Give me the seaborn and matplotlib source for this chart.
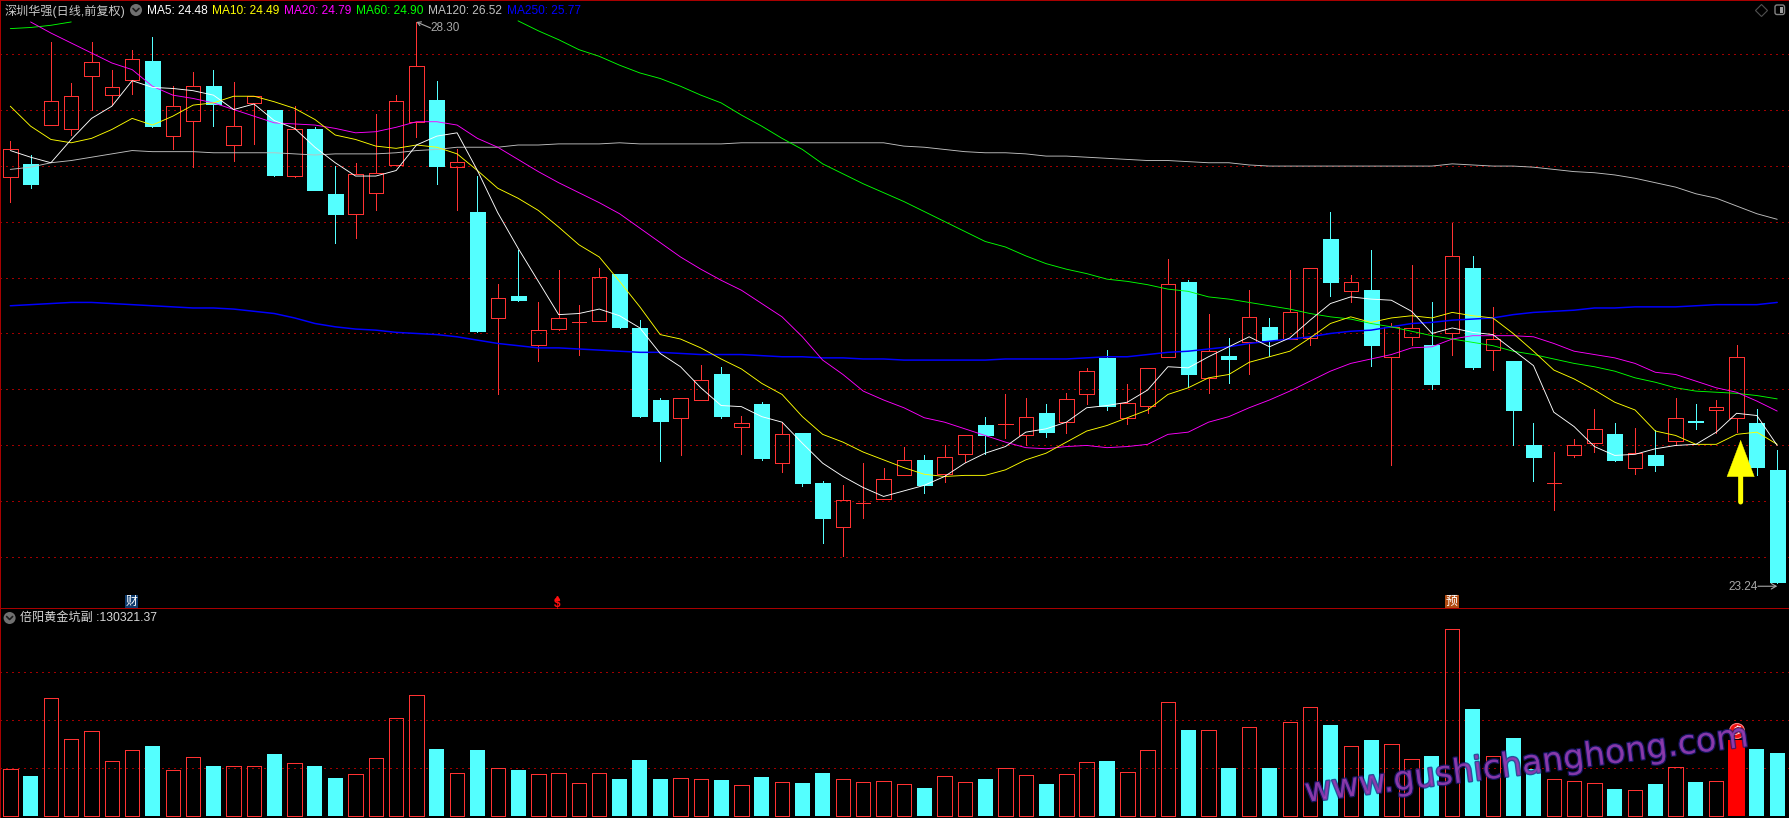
import numpy as np
import pandas as pd
import matplotlib
matplotlib.use('Agg')
import matplotlib.pyplot as plt
import matplotlib.patheffects as pe
from matplotlib.patches import Circle, FancyBboxPatch
import seaborn as sns

days = list(range(88))

open_p = [26.90, 27.02, 27.37, 27.33, 27.81, 27.64, 27.78, 27.95, 27.27, 27.41,
          27.72, 27.19, 27.57, 27.51, 26.91, 27.33, 26.75, 26.57, 26.76, 27.01,
          27.40, 27.60, 26.99, 26.59, 25.63, 25.83, 25.39, 25.53, 25.59, 25.60,
          26.03, 25.54, 24.89, 24.73, 24.89, 25.12, 24.65, 24.85, 24.32, 24.59,
          24.14, 23.74, 23.96, 24.00, 24.21, 24.35, 24.22, 24.40, 24.66, 24.67,
          24.57, 24.77, 24.69, 24.94, 25.27, 24.73, 24.84, 25.28, 25.95, 25.09,
          25.29, 25.41, 25.55, 25.44, 25.45, 26.34, 25.87, 25.88, 25.28, 25.46,
          25.39, 25.49, 26.08, 25.34, 25.24, 24.48, 24.14, 24.39, 24.50, 24.58,
          24.28, 24.39, 24.52, 24.70, 24.80, 24.73, 24.68, 24.26]
close_p = [27.15, 26.84, 27.59, 27.63, 27.94, 27.71, 27.97, 27.36, 27.54, 27.72,
           27.56, 27.36, 27.63, 26.92, 27.33, 26.78, 26.57, 26.93, 26.94, 27.59,
           27.90, 27.00, 27.04, 25.51, 25.81, 25.79, 25.52, 25.63, 25.59, 26.00,
           25.55, 24.75, 24.70, 24.91, 25.07, 24.75, 24.68, 24.37, 24.58, 24.14,
           23.83, 23.99, 23.96, 24.18, 24.35, 24.12, 24.38, 24.57, 24.57, 24.67,
           24.74, 24.60, 24.90, 25.15, 24.84, 24.86, 25.18, 25.94, 25.12, 25.33,
           25.26, 25.64, 25.43, 25.68, 26.08, 25.95, 25.95, 25.39, 25.55, 25.54,
           25.03, 26.19, 25.19, 25.44, 24.80, 24.38, 24.14, 24.48, 24.63, 24.35,
           24.41, 24.30, 24.73, 24.69, 24.83, 25.28, 24.29, 23.25]
high_p = [27.23, 27.10, 28.12, 27.75, 28.12, 27.87, 28.05, 28.16, 27.72, 27.85,
          27.87, 27.76, 27.63, 27.51, 27.54, 27.35, 27.00, 27.03, 27.47, 27.64,
          28.30, 27.77, 27.15, 26.91, 25.94, 26.24, 25.77, 26.06, 25.75, 26.08,
          26.03, 25.61, 24.91, 24.91, 25.21, 25.19, 24.75, 24.87, 24.69, 24.59,
          24.16, 24.12, 24.32, 24.28, 24.47, 24.39, 24.48, 24.57, 24.74, 24.94,
          24.91, 24.85, 24.95, 25.18, 25.34, 25.03, 25.18, 26.16, 25.97, 25.67,
          25.45, 25.88, 25.63, 26.06, 26.08, 26.59, 26.02, 26.24, 25.58, 26.11,
          25.77, 26.49, 26.19, 25.73, 25.24, 24.68, 24.42, 24.54, 24.81, 24.68,
          24.64, 24.62, 24.91, 24.85, 24.89, 25.39, 24.81, 24.44]
low_p = [26.68, 26.80, 27.37, 27.28, 27.51, 27.55, 27.65, 27.35, 27.15, 26.99,
         27.36, 27.05, 27.20, 26.91, 26.90, 26.78, 26.31, 26.35, 26.60, 27.01,
         27.26, 26.84, 26.60, 25.50, 24.94, 25.78, 25.24, 25.52, 25.30, 25.60,
         25.54, 24.74, 24.34, 24.39, 24.89, 24.73, 24.40, 24.35, 24.24, 24.11,
         23.60, 23.48, 23.83, 24.00, 24.21, 24.05, 24.15, 24.33, 24.40, 24.55,
         24.48, 24.56, 24.59, 24.85, 24.80, 24.67, 24.77, 25.28, 25.01, 24.95,
         25.04, 25.12, 25.29, 25.44, 25.39, 25.83, 25.77, 25.20, 24.30, 25.39,
         24.99, 25.30, 25.17, 25.16, 24.48, 24.16, 23.90, 24.38, 24.42, 24.34,
         24.22, 24.25, 24.48, 24.63, 24.59, 24.60, 24.21, 23.24]

ma5 = [27.14, 27.08, 27.03, 27.24, 27.43, 27.54, 27.77, 27.71, 27.70, 27.68,
       27.64, 27.51, 27.56, 27.41, 27.34, 27.17, 27.03, 26.91, 26.91, 26.96,
       27.19, 27.27, 27.30, 26.96, 26.58, 26.26, 25.96, 25.66, 25.67, 25.71,
       25.65, 25.54, 25.31, 25.19, 25.00, 24.84, 24.83, 24.74, 24.69, 24.50,
       24.32, 24.20, 24.10, 24.02, 24.07, 24.12, 24.20, 24.32, 24.41, 24.47,
       24.60, 24.63, 24.69, 24.82, 24.84, 24.87, 24.98, 25.19, 25.18, 25.28,
       25.37, 25.46, 25.37, 25.45, 25.61, 25.76, 25.82, 25.80, 25.79, 25.69,
       25.49, 25.54, 25.50, 25.48, 25.34, 25.20, 24.78, 24.65, 24.47, 24.39,
       24.40, 24.45, 24.48, 24.49, 24.60, 24.77, 24.75, 24.48]
ma10 = [27.54, 27.36, 27.24, 27.21, 27.25, 27.33, 27.43, 27.37, 27.45, 27.55,
        27.57, 27.63, 27.63, 27.58, 27.52, 27.42, 27.28, 27.24, 27.18, 27.16,
        27.19, 27.17, 27.11, 26.96, 26.80, 26.71, 26.60, 26.45, 26.29, 26.18,
        25.96, 25.73, 25.48, 25.44, 25.36, 25.26, 25.17, 25.04, 24.94, 24.74,
        24.58, 24.51, 24.42, 24.35, 24.28, 24.22, 24.20, 24.21, 24.21, 24.26,
        24.35, 24.41, 24.51, 24.61, 24.66, 24.73, 24.80, 24.94, 25.00, 25.09,
        25.12, 25.23, 25.28, 25.33, 25.45, 25.58, 25.64, 25.59, 25.63, 25.65,
        25.63, 25.68, 25.65, 25.63, 25.49, 25.33, 25.16, 25.08, 24.98, 24.87,
        24.80, 24.61, 24.57, 24.49, 24.49, 24.58, 24.60, 24.49]
# ma20 starts on the second day, the first point is above the pane
ma20 = [28.30, 28.20, 28.11, 28.02, 27.93, 27.87, 27.72, 27.64, 27.61,
        27.57, 27.51, 27.45, 27.39, 27.38, 27.37, 27.34, 27.30, 27.31, 27.35,
        27.40, 27.40, 27.37, 27.25, 27.17, 27.06, 26.95, 26.85, 26.76, 26.67,
        26.57, 26.44, 26.31, 26.18, 26.07, 25.97, 25.88, 25.76, 25.64, 25.46,
        25.25, 25.12, 24.97, 24.89, 24.82, 24.73, 24.69, 24.63, 24.57, 24.51,
        24.46, 24.45, 24.47, 24.48, 24.46, 24.47, 24.49, 24.58, 24.60, 24.69,
        24.74, 24.82, 24.89, 24.97, 25.06, 25.15, 25.22, 25.26, 25.30, 25.36,
        25.37, 25.44, 25.47, 25.47, 25.47, 25.46, 25.40, 25.33, 25.30, 25.27,
        25.22, 25.14, 25.12, 25.06, 25.00, 24.96, 24.88, 24.79]
# ma60 leaves the top of the pane between these two stretches
ma60_head = [28.24, 28.25, 28.27, 28.30]
ma60_tail = [28.31, 28.22, 28.14, 28.05, 27.99,
             27.91, 27.84, 27.79, 27.72, 27.64, 27.57, 27.46, 27.36, 27.25, 27.15,
             27.02, 26.93, 26.84, 26.76, 26.68, 26.59, 26.50, 26.41, 26.32, 26.27,
             26.19, 26.12, 26.07, 26.03, 25.98, 25.96, 25.93, 25.89, 25.87, 25.82,
             25.80, 25.77, 25.74, 25.71, 25.67, 25.64, 25.62, 25.58, 25.55, 25.51,
             25.47, 25.44, 25.41, 25.38, 25.33, 25.30, 25.26, 25.22, 25.19, 25.15,
             25.09, 25.05, 25.00, 24.97, 24.96, 24.95, 24.93, 24.90]
ma120 = [26.97, 26.99, 27.03, 27.05, 27.08, 27.11, 27.14, 27.13, 27.13, 27.13,
         27.12, 27.12, 27.12, 27.12, 27.11, 27.10, 27.11, 27.11, 27.11, 27.12,
         27.14, 27.15, 27.17, 27.17, 27.17, 27.19, 27.19, 27.20, 27.20, 27.20,
         27.21, 27.20, 27.20, 27.20, 27.20, 27.20, 27.21, 27.21, 27.21, 27.21,
         27.21, 27.21, 27.21, 27.21, 27.18, 27.17, 27.15, 27.13, 27.12, 27.12,
         27.11, 27.09, 27.09, 27.08, 27.07, 27.06, 27.05, 27.05, 27.04, 27.03,
         27.03, 27.01, 27.00, 27.00, 27.00, 27.00, 27.00, 27.00, 27.00, 27.00,
         27.00, 27.02, 27.01, 27.00, 27.00, 26.99, 26.97, 26.95, 26.94, 26.92,
         26.89, 26.85, 26.81, 26.75, 26.71, 26.64, 26.57, 26.52]
ma250 = [25.74, 25.75, 25.76, 25.77, 25.77, 25.76, 25.75, 25.74, 25.73, 25.72,
         25.72, 25.71, 25.69, 25.67, 25.63, 25.58, 25.55, 25.53, 25.52, 25.50,
         25.49, 25.48, 25.46, 25.43, 25.40, 25.38, 25.36, 25.36, 25.35, 25.34,
         25.33, 25.32, 25.32, 25.31, 25.30, 25.30, 25.30, 25.29, 25.28, 25.28,
         25.27, 25.27, 25.26, 25.26, 25.25, 25.25, 25.25, 25.25, 25.25, 25.26,
         25.26, 25.26, 25.26, 25.27, 25.28, 25.28, 25.30, 25.32, 25.33, 25.35,
         25.37, 25.40, 25.42, 25.44, 25.46, 25.49, 25.51, 25.52, 25.55, 25.58,
         25.59, 25.61, 25.62, 25.63, 25.66, 25.68, 25.69, 25.70, 25.72, 25.72,
         25.73, 25.73, 25.73, 25.74, 25.75, 25.75, 25.75, 25.77]

# volume in thousands
volume = [97.1, 83.2, 244.7, 159.5, 176.1, 113.7, 136.6, 145.6, 95.0, 122.0,
          104.0, 103.3, 103.3, 129.0, 109.5, 104.0, 79.0, 86.7, 119.9, 203.1,
          251.0, 139.4, 88.7, 137.3, 99.1, 95.7, 86.7, 88.7, 67.9, 88.7,
          77.0, 116.5, 77.0, 78.3, 76.3, 74.9, 63.8, 81.1, 70.0, 68.6,
          89.4, 76.3, 70.0, 72.1, 65.9, 58.2, 82.5, 70.0, 77.0, 99.1,
          84.6, 66.6, 86.7, 111.6, 114.4, 90.8, 136.6, 236.4, 178.9, 178.2,
          99.8, 184.4, 99.8, 194.8, 226.0, 189.3, 144.9, 158.1, 149.1, 117.9,
          124.8, 388.3, 222.6, 124.1, 162.2, 97.8, 76.3, 72.1, 67.9, 56.2,
          53.4, 66.6, 101.2, 70.7, 72.1, 158.1, 139.4, 130.3]
price_grid = [28.01, 27.51, 27.00, 26.50, 25.99, 25.49, 24.99, 24.48, 23.98, 23.47]
volume_grid = [100, 200, 300]
signal_day = 85

RED = '#ff3232'
CYAN = '#54ffff'
FRAME = '#a80000'
GRID = '#a00000'
GRAY = '#a8a8a8'

sns.set_theme(style='dark', rc={'figure.facecolor': 'black', 'axes.facecolor': 'black',
                                'savefig.facecolor': 'black'})
plt.rcParams['font.family'] = ['Liberation Sans', 'Noto Sans CJK SC', 'DejaVu Sans']

W, H = 1790, 818
SPLIT = 609.3
fig = plt.figure(figsize=(W / 100, H / 100), dpi=100)
ax = fig.add_axes([0, (H - SPLIT) / H, 1, SPLIT / H])
ax_vol = fig.add_axes([0, 0, 1, (H - SPLIT) / H])
over = fig.add_axes([0, 0, 1, 1], facecolor='none')
over.set_xlim(0, W)
over.set_ylim(H, 0)
over.axis('off')

px = 0.72  # one pixel in points
x_lim = (-0.507, 87.63)

for a, ticks in [(ax, price_grid), (ax_vol, volume_grid)]:
    a.set_xlim(*x_lim)
    a.set_yticks(ticks)
    a.set_yticklabels([])
    a.set_xticks([])
    a.tick_params(length=0)
    a.grid(axis='y', color=GRID, linestyle=(0, (1, 3)), linewidth=1.4 * px, antialiased=False)
    a.set_axisbelow(True)
    a.set_xlabel('')
    a.set_ylabel('')
    for s in a.spines.values():
        s.set_color(FRAME)
        s.set_linewidth(2 * px)
ax.spines['bottom'].set_visible(True)
ax_vol.spines['top'].set_visible(False)
ax_vol.spines['bottom'].set_visible(False)

df = pd.DataFrame({'day': days, 'open': open_p, 'close': close_p, 'high': high_p,
                   'low': low_p, 'volume': volume})
df['up'] = df['close'] >= df['open']
df['top'] = df[['open', 'close']].max(axis=1)
df['bottom'] = df[['open', 'close']].min(axis=1)
up = df[df['up']]
down = df[~df['up']]

BODY = 0.74
ax.vlines(up['day'], up['top'], up['high'], color=RED, linewidth=px, antialiased=False)
ax.vlines(up['day'], up['low'], up['bottom'], color=RED, linewidth=px, antialiased=False)
ax.vlines(down['day'], down['low'], down['high'], color=CYAN, linewidth=px, antialiased=False)
ax.bar(up['day'], up['top'] - up['bottom'], bottom=up['bottom'], width=BODY - 0.03, fill=False,
       edgecolor=RED, linewidth=px, antialiased=False, zorder=3)
ax.bar(down['day'], down['top'] - down['bottom'], bottom=down['bottom'], width=BODY,
       color=CYAN, edgecolor=CYAN, linewidth=0.6 * px, antialiased=False, zorder=3)

ma_lines = [(days, ma250, '#0000ff', 1.5), (days, ma120, '#c0c0c0', 0.9),
            (days[:4], ma60_head, '#00ff00', 0.9), (days[25:], ma60_tail, '#00ff00', 0.9),
            (days[1:], ma20, '#ff00ff', 0.9), (days, ma10, '#ffff00', 0.9), (days, ma5, '#ffffff', 0.9)]
for xs, ys, col, lw in ma_lines:
    sns.lineplot(x=xs, y=ys, color=col, linewidth=lw * px, estimator=None, errorbar=None,
                 sort=False, legend=False, ax=ax, zorder=4)
ax.set_xlim(*x_lim)
ax.set_ylim(23.002, 28.498)
ax.set_xlabel('')
ax.set_ylabel('')

vol_up = df[df['up'] & (df['day'] != signal_day)]
vol_down = df[~df['up']]
sns.barplot(data=vol_up, x='day', y='volume', orient='x', native_scale=True, fill=False, color=RED,
            saturation=1, width=BODY - 0.03, linewidth=px, errorbar=None, legend=False,
            antialiased=False, ax=ax_vol)
sns.barplot(data=vol_down, x='day', y='volume', orient='x', native_scale=True, color=CYAN,
            saturation=1, width=BODY, linewidth=0, errorbar=None, legend=False,
            antialiased=False, ax=ax_vol)
ax_vol.bar(signal_day, df.loc[signal_day, 'volume'], width=0.83, color='#ff0000', linewidth=0, zorder=3)
ax_vol.set_xlim(*x_lim)
ax_vol.set_ylim(-4.16, 429.9)
ax_vol.set_xlabel('')
ax_vol.set_ylabel('')
ax_vol.set_xticks([])

# high and low labels
ax.annotate('', xy=(20, 28.30), xytext=(20.7, 28.245),
            arrowprops=dict(arrowstyle='->,head_length=2.5,head_width=1.5', color=GRAY, linewidth=0.8,
                            shrinkA=0, shrinkB=0, mutation_scale=1), zorder=6)
over.text(430.5, 28, '28.30', color=GRAY, fontsize=8.5, va='center', ha='left')
ax.annotate('', xy=(87, 23.21), xytext=(86.05, 23.21),
            arrowprops=dict(arrowstyle='->,head_length=3.5,head_width=2', color=GRAY, linewidth=0.8,
                            shrinkA=0, shrinkB=0, mutation_scale=1), zorder=6)
over.text(1728, 587, '23.24', color=GRAY, fontsize=8.5, va='center', ha='left')

# yellow signal arrow, stem then head
ax.annotate('', xy=(85.2, 24.22), xytext=(85.2, 23.97),
            arrowprops=dict(arrowstyle='-', color='#ffff00', linewidth=3.6,
                            shrinkA=0, shrinkB=0), zorder=7)
ax.annotate('', xy=(85.2, 24.53), xytext=(85.2, 24.19),
            arrowprops=dict(arrowstyle='-|>,head_length=26,head_width=9.8', color='#ffff00', linewidth=0.3,
                            shrinkA=0, shrinkB=0, mutation_scale=1), zorder=7)

# header texts
over.text(5, 11, '深圳华强(日线,前复权)', color='#c8c8c8', fontsize=8.7, va='center')
legend_x = [146.6, 211.6, 283.6, 356, 428, 507]
legend_txt = ['MA5: 24.48', 'MA10: 24.49', 'MA20: 24.79', 'MA60: 24.90', 'MA120: 26.52', 'MA250: 25.77']
legend_col = ['#ffffff', '#ffff00', '#ff00ff', '#00ff00', '#c0c0c0', '#0000ff']
for lx, txt, col in zip(legend_x, legend_txt, legend_col):
    over.text(lx, 10.5, txt, color=col, fontsize=8.6, va='center')
over.text(20, 618, '倍阳黄金坑副 :130321.37', color='#d8d8d8', fontsize=8.7, va='center')

for cx, cy in [(136, 10), (9.6, 618)]:
    over.add_patch(Circle((cx, cy), 6, color='#707070', linewidth=0))
    over.plot([cx - 3, cx, cx + 3], [cy - 1.5, cy + 1.5, cy - 1.5], color='#1a1a1a', linewidth=1.2)

# top right icons
over.plot([1761], [10], marker='D', markersize=6.5, markerfacecolor='none', markeredgecolor='#505050',
          markeredgewidth=0.8)
over.add_patch(FancyBboxPatch((1775, 5), 9.5, 9.5, boxstyle='round,pad=0,rounding_size=2', fill=False,
                              edgecolor='#808080', linewidth=1))
over.add_patch(FancyBboxPatch((1780, 6.5), 3.5, 6.5, boxstyle='square,pad=0', color='#a0a0a0', linewidth=0))

# event marks above the split line
box = dict(boxstyle='square,pad=0.08', linewidth=0)
over.text(131.6, 601.5, '财', color='white', fontsize=8.6, ha='center', va='center',
          bbox=dict(facecolor='#0e3c6e', **box))
over.text(1452, 601.5, '预', color='white', fontsize=8.6, ha='center', va='center',
          bbox=dict(facecolor='#b04a10', **box))
over.text(556.8, 604, '$', color='#ff1010', fontsize=8.6, fontweight='bold', ha='center', va='center')
over.plot([556.8], [597.5], marker='^', markersize=3, color='#ff1010', linewidth=0)

# 多 badge on the signal bar
over.add_patch(Circle((1737, 731), 7.5, facecolor='#f01010', edgecolor='#ff8080', linewidth=0.8, zorder=5))
over.text(1737, 731, '多', color='white', fontsize=7.4, ha='center', va='center', zorder=6)

# site watermark
over.text(1306, 802, 'www.gushichanghong.com', color='#a040b8', alpha=0.75, fontsize=24,
          fontfamily='DejaVu Sans', rotation=7.2, rotation_mode='anchor',
          ha='left', va='baseline', zorder=8,
          path_effects=[pe.withStroke(linewidth=1.8, foreground='#1a1a78')])

fig.savefig('out.png', dpi=100, facecolor='black')
